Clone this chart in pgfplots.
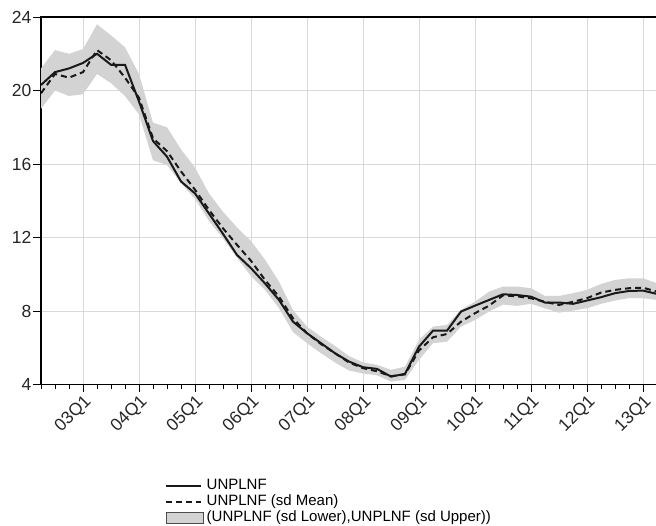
\documentclass[border=0pt]{standalone}
\usepackage{fontspec}
\setmainfont{Liberation Sans}
\usepackage{pgfplots}
\usepackage{pgfplotstable}
\pgfplotsset{compat=1.18}
\usepgfplotslibrary{fillbetween}
\definecolor{bandgray}{RGB}{211,211,211}
\definecolor{gridgray}{RGB}{217,217,217}
\definecolor{linecol}{RGB}{25,25,25}
\newcommand\tickfont{\fontsize{17.5pt}{19pt}\selectfont}
\newcommand\legfont{\fontsize{15pt}{17pt}\selectfont}

\pgfplotstableread{
t solid mean lower upper
0 20.30 19.85 19.00 21.20
1 21.00 20.90 20.00 22.20
2 21.20 20.70 19.70 22.00
3 21.50 21.00 19.80 22.25
4 22.00 22.20 20.90 23.60
5 21.40 21.65 20.40 23.00
6 21.40 20.70 19.70 22.35
7 19.40 19.60 18.70 20.90
8 17.25 17.40 16.20 18.25
9 16.40 16.70 15.95 18.00
10 15.05 15.60 14.95 16.80
11 14.40 14.60 14.10 15.80
12 13.30 13.50 12.90 14.40
13 12.20 12.50 11.95 13.40
14 11.05 11.60 10.90 12.55
15 10.33 10.73 9.90 11.80
16 9.50 9.69 9.15 10.80
17 8.60 8.78 8.15 9.60
18 7.42 7.60 6.85 8.05
19 6.79 6.79 6.25 7.15
20 6.25 6.20 5.70 6.60
21 5.70 5.70 5.20 6.10
22 5.25 5.20 4.76 5.55
23 4.94 4.89 4.60 5.20
24 4.85 4.72 4.50 5.07
25 4.43 4.45 4.16 4.80
26 4.58 4.55 4.25 4.97
27 6.06 5.85 5.34 6.43
28 6.93 6.57 6.25 7.15
29 6.93 6.75 6.33 7.24
30 7.97 7.42 7.15 8.06
31 8.29 7.88 7.51 8.51
32 8.60 8.29 7.97 9.05
33 8.91 8.85 8.35 9.33
34 8.87 8.80 8.28 9.33
35 8.78 8.69 8.39 9.24
36 8.46 8.50 8.15 8.82
37 8.46 8.33 7.91 8.82
38 8.39 8.50 8.02 8.97
39 8.57 8.70 8.15 9.15
40 8.75 9.00 8.39 9.47
41 8.97 9.15 8.57 9.69
42 9.09 9.24 8.70 9.78
43 9.11 9.27 8.70 9.78
44 8.93 9.05 8.60 9.51
}\datatable

\begin{document}
\begin{tikzpicture}
\begin{axis}[
  name=ax,
  width=616pt, height=367.5pt, scale only axis,
  xmin=0, xmax=44, ymin=4, ymax=24,
  xtick={3,7,...,43},
  xticklabels={03Q1,04Q1,05Q1,06Q1,07Q1,08Q1,09Q1,10Q1,11Q1,12Q1,13Q1},
  minor xtick={0,...,44},
  ytick={4,8,...,24},
  tick align=outside, xtick pos=bottom, ytick pos=left,
  major tick length=7.5pt, minor tick length=4.5pt,
  tick style={black, line width=0.8pt},
  xmajorgrids, ymajorgrids,
  grid style={gridgray, line width=0.9pt},
  axis line style={black, line width=1.1pt},
  /pgf/number format/assume math mode=true,
  tick label style={font=\tickfont, text=black!85},
  yticklabel style={inner sep=2pt},
  xticklabel style={rotate=45, anchor=north east, inner sep=1pt},
  legend style={at={(0.2013,-0.255)}, anchor=north west, draw=none, fill=none,
     font=\legfont, row sep=1pt, inner sep=0pt,
     cells={anchor=west},
     nodes={inner sep=0.5pt, text height=11pt, text depth=3pt}},
  legend cell align=left,
  legend image code/.code={\draw[#1] (0pt,0pt) -- (35pt,0pt); \path (39pt,0pt);},
  no markers,
]
\addplot[name path=up, draw=none, forget plot] table[x=t,y=upper]{\datatable};
\addplot[name path=lo, draw=none, forget plot] table[x=t,y=lower]{\datatable};
\addplot[bandgray, forget plot] fill between[of=up and lo];
\addplot[linecol, line width=2pt] table[x=t,y=solid]{\datatable};
\addlegendentry{UNPLNF}
\addplot[linecol, line width=2pt, dash pattern=on 6pt off 4pt] table[x=t,y=mean]{\datatable};
\addlegendentry{UNPLNF (sd Mean)}
\addlegendimage{legend image code/.code={\draw[fill=bandgray, draw=black!70, line width=0.8pt] (0pt,-5pt) rectangle (37pt,6pt); \path (39pt,0pt);}}
\addlegendentry{(UNPLNF (sd Lower),UNPLNF (sd Upper))}
\end{axis}
\pgfresetboundingbox
\path[use as bounding box] ([xshift=-41pt,yshift=-140.5pt]ax.south west) rectangle ([xshift=-1pt,yshift=17pt]ax.north east);
\end{tikzpicture}
\end{document}
